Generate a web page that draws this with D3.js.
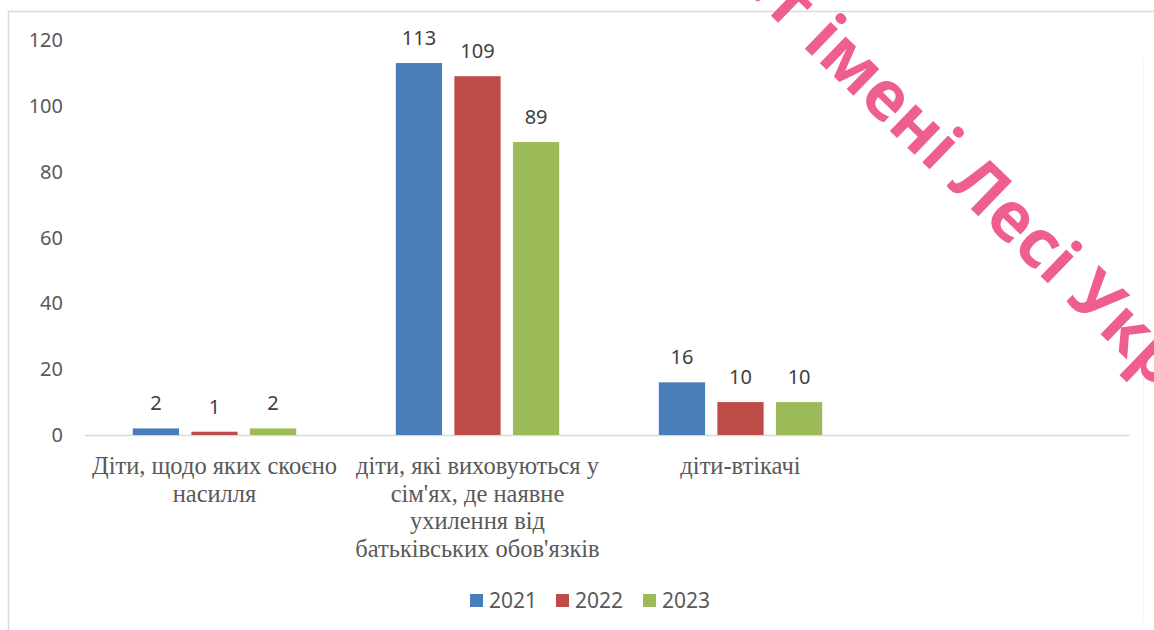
<!DOCTYPE html>
<html>
<head>
<meta charset="utf-8">
<script src="https://cdn.jsdelivr.net/npm/d3@7"></script>
<style>
  body { margin: 0; background: #fff; }
  svg { display: block; }
</style>
</head>
<body>
<div id="chart"></div>
<script>
// data
const categories = ["c1", "c2", "c3", "c4"];
const categoryLines = [
  ["Діти, щодо яких скоєно", "насилля"],
  ["діти, які виховуються у", "сім'ях, де наявне", "ухилення від", "батьківських обов'язків"],
  ["діти-втікачі"],
  []
];
const years = ["2021", "2022", "2023"];
const values2021 = [2, 113, 16, null];
const values2022 = [1, 109, 10, null];
const values2023 = [2, 89, 10, null];
const yTicks = [0, 20, 40, 60, 80, 100, 120];
const colors = ["#4a7ebb", "#be4b48", "#9bbb59"];

const width = 1154, height = 630;

const svg = d3.select("#chart")
  .append("svg")
  .attr("width", width)
  .attr("height", height)
  .attr("viewBox", [0, 0, width, height]);

// frame
svg.append("path")
  .attr("d", `M8.5,${height} V11.5 H${width}`)
  .attr("fill", "none")
  .attr("stroke", "#d9d9d9")
  .attr("stroke-width", 1.5);
svg.append("line")
  .attr("x1", 1143.5).attr("x2", 1143.5)
  .attr("y1", 60).attr("y2", 620)
  .attr("stroke", "#f4f4f4");

// scales
const x0 = d3.scaleBand()
  .domain(categories)
  .range([83, 1135]);

const x1 = d3.scaleBand()
  .domain(years)
  .range([0, x0.bandwidth()])
  .paddingInner(0.21)
  .paddingOuter(0.85);

const y = d3.scaleLinear()
  .domain([0, 120])
  .range([435, 40]);

// y axis labels
svg.append("g")
  .selectAll("text")
  .data(yTicks)
  .join("text")
  .attr("x", 63)
  .attr("y", d => y(d))
  .attr("dy", "0.35em")
  .attr("text-anchor", "end")
  .attr("font-family", "'Noto Sans', 'Open Sans', sans-serif")
  .attr("font-size", 20)
  .attr("fill", "#595959")
  .text(d => d);

// baseline
svg.append("line")
  .attr("x1", x0.range()[0] + 2)
  .attr("x2", x0.range()[1] - 5)
  .attr("y1", y(0) + 0.5)
  .attr("y2", y(0) + 0.5)
  .attr("stroke", "#d9d9d9")
  .attr("stroke-width", 1.5);

// bars
const series = [values2021, values2022, values2023];
const rows = [];
categories.forEach((c, i) => {
  years.forEach((yr, j) => {
    if (series[j][i] != null) rows.push({ cat: c, year: yr, value: series[j][i], color: colors[j] });
  });
});

svg.append("g")
  .selectAll("rect")
  .data(rows)
  .join("rect")
  .attr("x", d => x0(d.cat) + x1(d.year))
  .attr("y", d => y(d.value))
  .attr("width", x1.bandwidth())
  .attr("height", d => y(0) - y(d.value))
  .attr("fill", d => d.color);

// value labels
svg.append("g")
  .selectAll("text")
  .data(rows)
  .join("text")
  .attr("x", d => x0(d.cat) + x1(d.year) + x1.bandwidth() / 2)
  .attr("y", d => y(d.value) - 18)
  .attr("text-anchor", "middle")
  .attr("font-family", "'Noto Sans', 'Open Sans', sans-serif")
  .attr("font-size", 20)
  .attr("fill", "#404040")
  .text(d => d.value);

// category labels
const catG = svg.append("g");
categories.forEach((c, i) => {
  const t = catG.append("text")
    .attr("x", x0(c) + x0.bandwidth() / 2)
    .attr("y", 474)
    .attr("text-anchor", "middle")
    .attr("font-family", "'Liberation Serif', 'Times New Roman', serif")
    .attr("font-size", 24.5)
    .attr("fill", "#595959");
  categoryLines[i].forEach((line, k) => {
    t.append("tspan")
      .attr("x", x0(c) + x0.bandwidth() / 2)
      .attr("dy", k === 0 ? 0 : 27.5)
      .text(line);
  });
});

// legend
const legendX = [470, 556, 643];
const legend = svg.append("g");
years.forEach((yr, j) => {
  legend.append("rect")
    .attr("x", legendX[j])
    .attr("y", 594)
    .attr("width", 13)
    .attr("height", 13)
    .attr("fill", colors[j]);
  legend.append("text")
    .attr("x", legendX[j] + 19)
    .attr("y", 601)
    .attr("dy", "0.35em")
    .attr("font-family", "'Noto Sans', 'Open Sans', sans-serif")
    .attr("font-size", 21)
    .attr("fill", "#595959")
    .text(yr);
});

// watermark
const wm = svg.append("g")
  .attr("transform", "translate(801,45) rotate(44)")
  .attr("font-family", "'Open Sans', 'Noto Sans', sans-serif")
  .attr("font-weight", 700)
  .attr("font-size", 68)
  .attr("fill", "#ee5f8e");
wm.append("text").attr("text-anchor", "end").attr("x", -18).text("університет");
wm.append("text").attr("text-anchor", "start").attr("x", 0).text("імені Лесі Українки");
</script>
</body>
</html>
